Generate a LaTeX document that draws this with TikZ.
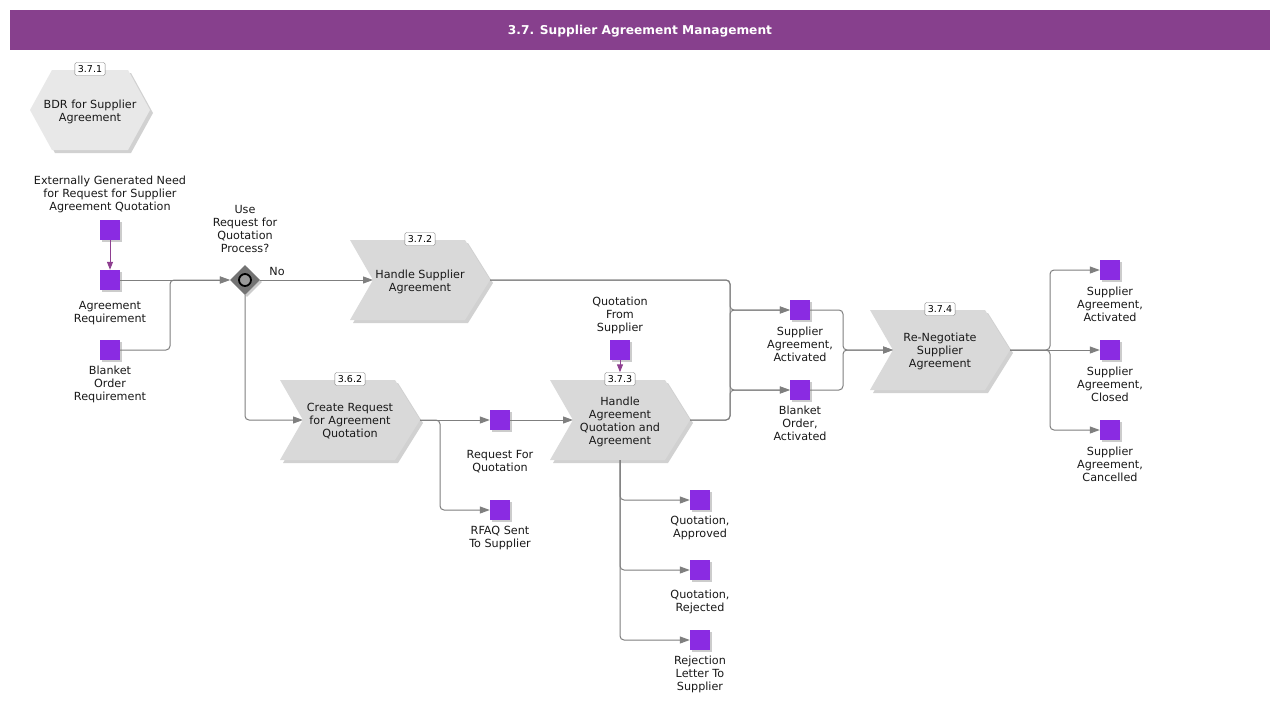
\documentclass[tikz,border=0pt]{standalone}
\usepackage{fontspec}
\setmainfont{DejaVu Sans}
\usetikzlibrary{arrows.meta,shapes.geometric,shadows,calc}
\definecolor{titlebar}{HTML}{87408D}
\definecolor{evfill}{HTML}{8A2BE2}
\definecolor{procfill}{HTML}{D9D9D9}
\definecolor{hexfill}{HTML}{E8E8E8}
\definecolor{conncol}{HTML}{7F7F7F}
\definecolor{flowpurple}{HTML}{8E3F90}
\newcommand\fsmain{\fontsize{11.2}{13}\selectfont}
\newcommand\fstag{\fontsize{9.5}{10}\selectfont}
\tikzset{
  txt/.style={font=\fsmain, align=center, inner sep=0pt, text=black!90, yshift=-1.5pt},
  tagbox/.style={draw=black!50, fill=white, rounded corners=1.5pt, font=\fstag, inner xsep=3pt, inner ysep=0pt, minimum height=13pt, text=black},
  ev/.style={rectangle, fill=evfill, minimum size=20pt, inner sep=0pt, drop shadow={shadow xshift=2pt, shadow yshift=-2pt, fill=black!20, opacity=1}},
  conn/.style={draw=conncol, line width=1pt, rounded corners=4pt, -{Triangle[length=10pt,width=7pt]}},
  pconn/.style={draw=flowpurple, line width=1pt, -{Triangle[length=8pt,width=6pt]}},
}
\newcommand\procshape[5]{%
 \begin{scope}[shift={(#2,#3)}]
  \fill[black!18] (-67,-37) -- (48,-37) -- (73,3) -- (48,43) -- (-67,43) -- (-44,3) -- cycle;
  \fill[procfill] (-70,-40) -- (45,-40) -- (70,0) -- (45,40) -- (-70,40) -- (-47,0) -- cycle;
  \coordinate (#1-in) at (-47,0);
  \coordinate (#1-out) at (70,0);
  \coordinate (#1-top) at (0,-40);
  \coordinate (#1-bot) at (0,40);
  \node[txt] (#1) at (0,0) {#5};
  \node[tagbox] (#1-tag) at (0,-41) {#4};
 \end{scope}}
\begin{document}
\begin{tikzpicture}[x=1pt,y=-1pt]
\useasboundingbox (0,0) rectangle (1280,704);
\fill[white] (0,0) rectangle (1280,704);
% title
\fill[titlebar] (10,10) rectangle (1270,50);
\node[font=\fontsize{12.2}{14}\selectfont\bfseries, text=white] (title) at (640,31) {3.7. Supplier Agreement Management};
% BDR hexagon
\begin{scope}[shift={(90,110)}]
  \fill[black!18] (-57,3) -- (-35,-37) -- (41,-37) -- (63,3) -- (41,43) -- (-35,43) -- cycle;
  \fill[hexfill] (-60,0) -- (-38,-40) -- (38,-40) -- (60,0) -- (38,40) -- (-38,40) -- cycle;
  \node[txt] (bdr) at (0,0.5) {BDR for Supplier\\Agreement};
  \node[tagbox] (bdr-tag) at (0,-41) {3.7.1};
\end{scope}
% processes
\procshape{hsa}{420}{280}{3.7.2}{Handle Supplier\\Agreement}
\procshape{cr}{350}{420}{3.6.2}{Create Request\\for Agreement\\Quotation}
\procshape{haq}{620}{420}{3.7.3}{Handle\\Agreement\\Quotation and\\Agreement}
\procshape{rn}{940}{350}{3.7.4}{Re-Negotiate\\Supplier\\Agreement}
% events
\node[ev] (ext) at (110,230) {};
\node[txt] (ext-l) at (110,193) {Externally Generated Need\\for Request for Supplier\\Agreement Quotation};
\node[ev] (agreq) at (110,280) {};
\node[txt] (agreq-l) at (110,311.5) {Agreement\\Requirement};
\node[ev] (blank) at (110,350) {};
\node[txt] (blank-l) at (110,383) {Blanket\\Order\\Requirement};
\node[ev] (rfq) at (500,420) {};
\node[txt] (rfq-l) at (500,460.5) {Request For\\Quotation};
\node[ev] (rfaq) at (500,510) {};
\node[txt] (rfaq-l) at (500,536.5) {RFAQ Sent\\To Supplier};
\node[ev] (qfs) at (620,350) {};
\node[txt] (qfs-l) at (620,314) {Quotation\\From\\Supplier};
\node[ev] (saa) at (800,310) {};
\node[txt] (saa-l) at (800,343) {Supplier\\Agreement,\\Activated};
\node[ev] (boa) at (800,390) {};
\node[txt] (boa-l) at (800,422) {Blanket\\Order,\\Activated};
\node[ev] (ra) at (1110,270) {};
\node[txt] (ra-l) at (1110,303) {Supplier\\Agreement,\\Activated};
\node[ev] (rc) at (1110,350) {};
\node[txt] (rc-l) at (1110,383) {Supplier\\Agreement,\\Closed};
\node[ev] (rx) at (1110,430) {};
\node[txt] (rx-l) at (1110,463) {Supplier\\Agreement,\\Cancelled};
\node[ev] (qa) at (700,500) {};
\node[txt] (qa-l) at (700,526.5) {Quotation,\\Approved};
\node[ev] (qr) at (700,570) {};
\node[txt] (qr-l) at (700,600.5) {Quotation,\\Rejected};
\node[ev] (rl) at (700,640) {};
\node[txt] (rl-l) at (700,673) {Rejection\\Letter To\\Supplier};
% gateway
\node[diamond, aspect=1, minimum width=30pt, minimum height=30pt, inner sep=0pt, fill=black!55, drop shadow={shadow xshift=2pt, shadow yshift=-2pt, fill=black!20, opacity=1}] (gw) at (245,280) {};
\node[circle, draw=black, line width=1.8pt, minimum size=12pt, inner sep=0pt, fill=black!40] (gwc) at (gw) {};
\node[txt] (gw-l) at (245,227.5) {Use\\Request for\\Quotation\\Process?};
\node[txt] (no) at (277,270) {No};
% junction coordinates
\coordinate (j1) at (170,280);
\coordinate (jx1) at (730,0);
\coordinate (jx2) at (843,0);
\coordinate (jx3) at (1050,0);
\coordinate (jx4) at (440,0);
% connectors
\draw[pconn] (ext.south) -- (agreq.north);
\draw[pconn] (qfs.south) -- (haq-tag.north);
\draw[conn] (agreq.east) -- (gw.west);
\draw[conn] (blank.east) -| (j1) -- (gw.west);
\draw[conn] (gw.east) -- (hsa-in);
\draw[conn] (gw.south) |- (cr-in);
\draw[conn] (cr-out) -- (rfq.west);
\draw[conn] (cr-out) -| (jx4 |- rfaq.west) -- (rfaq.west);
\draw[conn] (rfq.east) -- (haq-in);
\draw[conn] (hsa-out) -| (jx1 |- saa.west) -- (saa.west);
\draw[conn] (hsa-out) -| (jx1 |- boa.west) -- (boa.west);
\draw[conn] (haq-out) -| (jx1 |- boa.west) -- (boa.west);
\draw[conn] (haq-out) -| (jx1 |- saa.west) -- (saa.west);
\draw[conn] (saa.east) -| (jx2 |- rn-in) -- (rn-in);
\draw[conn] (boa.east) -| (jx2 |- rn-in) -- (rn-in);
\draw[conn] (rn-out) -| (jx3 |- ra.west) -- (ra.west);
\draw[conn] (rn-out) -- (rc.west);
\draw[conn] (rn-out) -| (jx3 |- rx.west) -- (rx.west);
\draw[conn] (haq-bot) |- (qa.west);
\draw[conn] (haq-bot) |- (qr.west);
\draw[conn] (haq-bot) |- (rl.west);
\end{tikzpicture}
\end{document}
